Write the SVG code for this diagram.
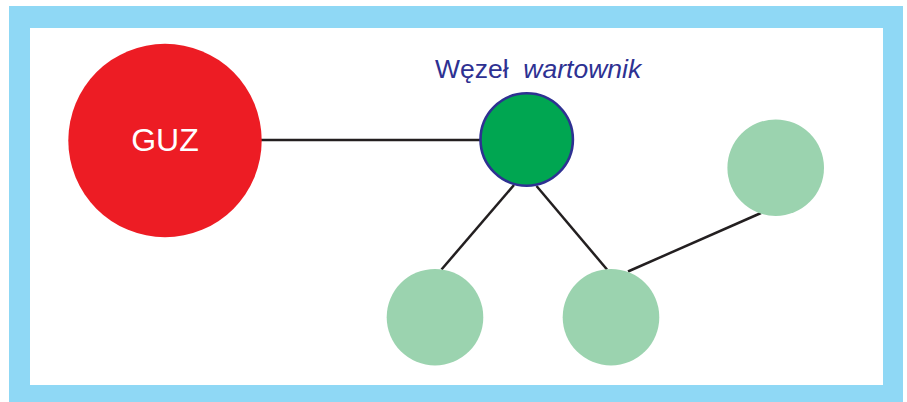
<svg xmlns="http://www.w3.org/2000/svg" width="907" height="402" viewBox="0 0 907 402">
  <style>
    .edge { stroke: #231f20; stroke-width: 2.5; fill: none; }
    .leaf { fill: #9bd3af; }
    .label { font-family: "Liberation Sans", Arial, sans-serif; }
  </style>
  <!-- frame -->
  <rect x="9" y="6" width="894" height="396" fill="#8fd8f5"/>
  <rect x="30" y="28" width="853" height="357" fill="#ffffff"/>

  <g id="connectors">
    <line class="edge" x1="261" y1="140" x2="480" y2="140"/>
    <line class="edge" x1="514" y1="185" x2="441.5" y2="269.5"/>
    <line class="edge" x1="536.5" y1="186" x2="607" y2="269.5"/>
    <line class="edge" x1="628" y1="271.5" x2="761" y2="213"/>
  </g>

  <g id="guz">
    <circle cx="165" cy="140.5" r="96.7" fill="#ed1c24"/>
    <text class="label" x="165" y="151" font-size="32" fill="#ffffff" text-anchor="middle">GUZ</text>
  </g>

  <g id="wartownik">
    <circle cx="526.7" cy="139.5" r="46.2" fill="#00a651" stroke="#2e3192" stroke-width="2.6"/>
    <text class="label" x="435" y="77.5" font-size="26.5" fill="#2e3192" xml:space="preserve">Węzeł  <tspan font-style="italic">wartownik</tspan></text>
  </g>

  <g id="leaf-left">
    <circle class="leaf" cx="435" cy="317.2" r="48.3"/>
  </g>
  <g id="leaf-middle">
    <circle class="leaf" cx="611" cy="317.2" r="48.3"/>
  </g>
  <g id="leaf-right">
    <circle class="leaf" cx="775.7" cy="167.7" r="48.3"/>
  </g>
</svg>
